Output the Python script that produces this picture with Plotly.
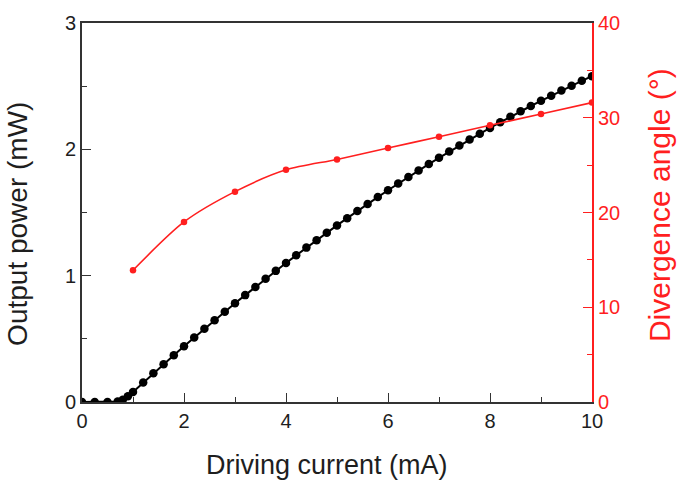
import plotly.graph_objects as go

# Output power (black) vs driving current
current_mA = [0, 0.25, 0.5, 0.7, 0.8, 0.9, 1.0, 1.2, 1.4, 1.6, 1.8, 2.0, 2.2, 2.4, 2.6, 2.8,
              3.0, 3.2, 3.4, 3.6, 3.8, 4.0, 4.2, 4.4, 4.6, 4.8, 5.0, 5.2, 5.4, 5.6, 5.8,
              6.0, 6.2, 6.4, 6.6, 6.8, 7.0, 7.2, 7.4, 7.6, 7.8, 8.0, 8.2, 8.4, 8.6, 8.8,
              9.0, 9.2, 9.4, 9.6, 9.8, 10.0]
power_mW = [0, 0, 0, 0.004, 0.018, 0.045, 0.08, 0.154, 0.227, 0.299, 0.370, 0.441, 0.510,
            0.579, 0.647, 0.714, 0.781, 0.846, 0.911, 0.975, 1.038, 1.100, 1.161, 1.222,
            1.281, 1.340, 1.398, 1.455, 1.512, 1.567, 1.622, 1.676, 1.729, 1.781, 1.832,
            1.883, 1.933, 1.982, 2.030, 2.077, 2.123, 2.169, 2.214, 2.258, 2.301, 2.343,
            2.384, 2.425, 2.465, 2.504, 2.542, 2.579]

# Divergence angle (red)
angle_current = [1, 2, 3, 4, 5, 6, 7, 8, 9, 10]
angle_deg = [13.9, 19.0, 22.2, 24.5, 25.6, 26.8, 28.0, 29.2, 30.4, 31.6]

x_title = "Driving current (mA)"
y_title = "Output power (mW)"
y2_title = "Divergence angle (°)"

RED = "#ff1f1f"
DARK = "#1e1e1e"
FONT = "Liberation Sans, Arial, sans-serif"

W, H = 680, 483
ML, MR, MT, MB = 82, 88, 19, 81
PW, PH = W - ML - MR, H - MT - MB


def px(x):
    return (x - ML) / PW


def py(y):
    return (H - MB - y) / PH


fig = go.Figure()
fig.add_trace(go.Scatter(x=current_mA, y=power_mW, mode="lines+markers",
                         line=dict(color="black", width=2),
                         marker=dict(color="black", size=8.5), showlegend=False))
fig.add_trace(go.Scatter(x=angle_current, y=angle_deg, mode="lines+markers", yaxis="y2",
                         line=dict(color=RED, width=1.6, shape="spline", smoothing=0.8),
                         marker=dict(color=RED, size=6.5), showlegend=False))

axis_common = dict(ticks="inside", ticklen=9, tickwidth=1.3, showgrid=False, zeroline=False,
                   linewidth=2, showline=True)

fig.update_layout(
    width=W, height=H,
    margin=dict(l=ML, r=MR, t=MT, b=MB),
    plot_bgcolor="white", paper_bgcolor="white",
    font=dict(family=FONT, size=20, color=DARK),
    xaxis=dict(range=[0, 10], dtick=2, tickcolor="#333", linecolor="#333", mirror=True,
               minor=dict(dtick=1, ticks="inside", ticklen=5, tickcolor="#333", tickwidth=1.3),
               tickfont=dict(size=20, color=DARK), **axis_common),
    yaxis=dict(range=[0, 3], dtick=1, tickcolor="#333", linecolor="#333",
               minor=dict(dtick=0.5, ticks="inside", ticklen=5, tickcolor="#333", tickwidth=1.3),
               tickfont=dict(size=20, color=DARK), **axis_common),
    yaxis2=dict(range=[0, 40], dtick=10, overlaying="y", side="right", anchor="x",
                tickcolor=RED, linecolor=RED,
                minor=dict(dtick=5, ticks="inside", ticklen=5, tickcolor=RED, tickwidth=1.3),
                tickfont=dict(size=20, color=RED), **axis_common),
    annotations=[
        dict(text=x_title, xref="paper", yref="paper", x=px(327), y=py(466),
             xanchor="center", yanchor="middle", showarrow=False,
             font=dict(size=27, color=DARK)),
        dict(text=y_title, xref="paper", yref="paper", x=px(18), y=py(222),
             xanchor="center", yanchor="middle", showarrow=False, textangle=-90,
             font=dict(size=28, color=DARK)),
        dict(text=y2_title, xref="paper", yref="paper", x=px(659), y=py(203),
             xanchor="center", yanchor="middle", showarrow=False, textangle=-90,
             font=dict(size=30, color=RED)),
    ],
)

fig.write_html("out.html")
